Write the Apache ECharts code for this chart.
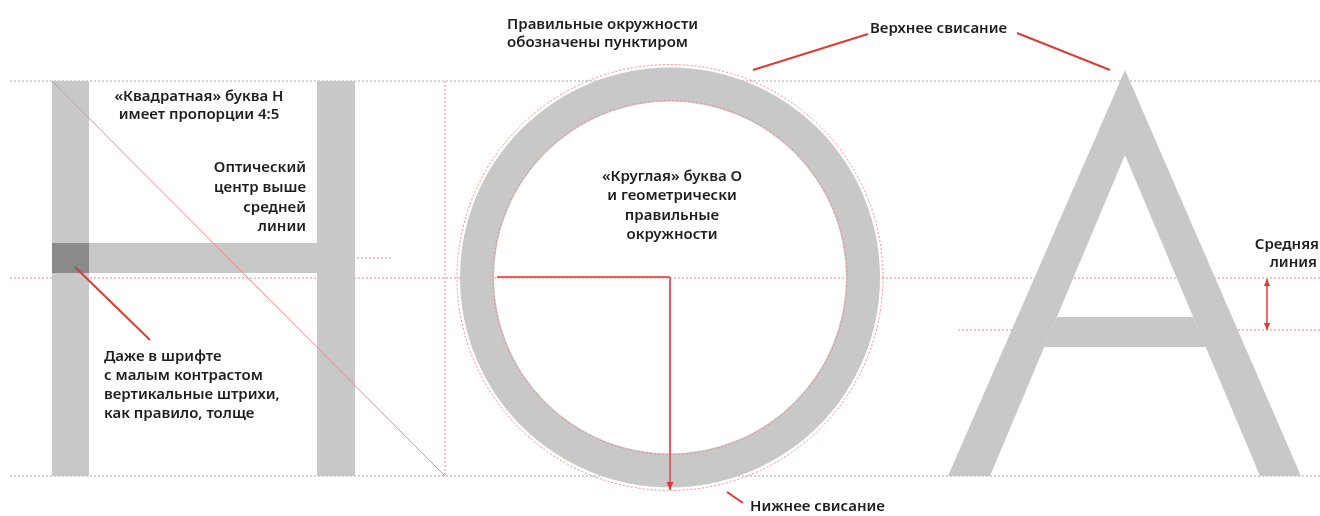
<!DOCTYPE html>
<html>
<head>
<meta charset="utf-8">
<script src="https://cdn.jsdelivr.net/npm/echarts@6/dist/echarts.min.js"></script>
<style>html,body{margin:0;padding:0;background:#fff;}#c{width:1320px;height:516px;}</style>
</head>
<body>
<div id="c"></div>
<script>
// ---- data (diagram coordinates: x 0..1320, y 0..516 downward) ----
const guidesGray = [[10,81,1320,81],[10,476,1320,476]];
const guidesRed = [[10,278,1320,278],[958,330,1320,330],[353,258,393,258],[445,81,445,476]];
const diagonal = [[52,81,445,476]];
const hStems = [[52,81,89,476],[317,81,355,476],[52,243,355,273]];
const hDark = [[52,243,89,273]];
const oCenter = [670,277.5];
const oRing = [210,176];
const oDotted = [213,177];
const aLeft = [[1125,70],[1125,155],[990,476],[948,476]];
const aRight = [[1125,70],[1301,476],[1260,476],[1125,155]];
const aBar = [[1057,317],[1193,317],[1206,347],[1044,347]];
const aShapes = [aLeft, aRight, aBar];
const pointers = [[75,267,150,340],[868,34,753,70],[1017,33,1110,70],[727,492,743,503]];
const radiusLines = [[497,277,670,277,0],[670,277,670,490,1],[1267,279,1267,330,2]]; // last: arrow kind
const textsLeft = [
  [104,357,'Даже в шрифте'],[104,376,'с малым контрастом'],[104,395,'вертикальные штрихи,'],[104,414,'как правило, толще'],
  [507,25,'Правильные окружности'],[507,43,'обозначены пунктиром'],
  [870,29,'Верхнее свисание'],[750,507,'Нижнее свисание']
];
const textsCenter = [
  [199,97,'«Квадратная» буква Н'],[199,115,'имеет пропорции 4:5'],
  [672,177,'«Круглая» буква О'],[672,196,'и геометрически'],[672,216,'правильные'],[672,235,'окружности']
];
const textsRight = [
  [306,168,'Оптический'],[306,188,'центр выше'],[306,208,'средней'],[306,227,'линии'],
  [1319,245,'Средняя'],[1317,263,'линия']
];

// ---- styles ----
const GRAY = '#c8c8c8', DARK = '#8a8a8a', RED = '#dd3b35', RED_LIGHT = '#ee8a86', GRAY_DOT = '#a8a8a8';
const FONT = '600 15px "Noto Sans", sans-serif';

function segSeries(data, stroke, width, dash, z) {
  return {
    type: 'custom', z: z, silent: true, data: data,
    renderItem: function (p, api) {
      const a = api.coord([api.value(0), api.value(1)]);
      const b = api.coord([api.value(2), api.value(3)]);
      return { type: 'line', shape: { x1: a[0], y1: a[1], x2: b[0], y2: b[1] },
        style: { stroke: stroke, lineWidth: width, lineDash: dash } };
    }
  };
}
function rectSeries(data, fill, z) {
  return {
    type: 'custom', z: z, silent: true, data: data,
    renderItem: function (p, api) {
      const a = api.coord([api.value(0), api.value(1)]);
      const b = api.coord([api.value(2), api.value(3)]);
      return { type: 'rect', shape: { x: Math.min(a[0], b[0]), y: Math.min(a[1], b[1]),
        width: Math.abs(b[0] - a[0]), height: Math.abs(b[1] - a[1]) }, style: { fill: fill } };
    }
  };
}
function textSeries(data, align, z) {
  return {
    type: 'custom', z: z, silent: true, data: data.map(function (t) { return [t[0], t[1]]; }),
    renderItem: function (p, api) {
      const a = api.coord([api.value(0), api.value(1)]);
      return { type: 'text', x: a[0], y: a[1],
        style: { text: data[p.dataIndex][2], fill: '#1e1e1e', font: FONT, align: align, verticalAlign: 'middle' } };
    }
  };
}
function arrowHead(tip, from, size) {
  const dx = tip[0] - from[0], dy = tip[1] - from[1];
  const L = Math.sqrt(dx * dx + dy * dy) || 1;
  const ux = dx / L, uy = dy / L;
  const bx = tip[0] - ux * size, by = tip[1] - uy * size;
  const w = size * 0.45;
  return { type: 'polygon', shape: { points: [tip, [bx - uy * w, by + ux * w], [bx + uy * w, by - ux * w]] },
    style: { fill: RED } };
}

const option = {
  animation: false,
  backgroundColor: '#fff',
  grid: { left: 0, right: 0, top: 0, bottom: 0 },
  xAxis: { type: 'value', min: 0, max: 1320, show: false },
  yAxis: { type: 'value', min: 0, max: 516, inverse: true, show: false },
  series: [
    segSeries(guidesGray, GRAY_DOT, 1, [2, 2], 1),
    segSeries(guidesRed, RED_LIGHT, 1, [2, 2], 1),
    rectSeries(hStems, GRAY, 2),
    rectSeries(hDark, DARK, 3),
    {
      type: 'custom', z: 2, silent: true, data: [[oCenter[0], oCenter[1], oRing[0], oRing[1]]],
      renderItem: function (p, api) {
        const c = api.coord([api.value(0), api.value(1)]);
        const r = api.coord([api.value(0) + api.value(2), api.value(1)])[0] - c[0];
        const r0 = api.coord([api.value(0) + api.value(3), api.value(1)])[0] - c[0];
        return { type: 'ring', shape: { cx: c[0], cy: c[1], r: r, r0: r0 }, style: { fill: GRAY } };
      }
    },
    {
      type: 'custom', z: 2, silent: true, data: aShapes.map(function (s, i) { return [s[0][0], s[0][1], i]; }),
      renderItem: function (p, api) {
        const pts = aShapes[p.dataIndex].map(function (q) { return api.coord(q); });
        return { type: 'polygon', shape: { points: pts }, style: { fill: GRAY } };
      }
    },
    {
      type: 'custom', z: 3, silent: true, data: oDotted.map(function (r) { return [oCenter[0], oCenter[1], r]; }),
      renderItem: function (p, api) {
        const c = api.coord([api.value(0), api.value(1)]);
        const r = api.coord([api.value(0) + api.value(2), api.value(1)])[0] - c[0];
        return { type: 'circle', shape: { cx: c[0], cy: c[1], r: r },
          style: { fill: 'none', stroke: RED_LIGHT, lineWidth: 1, lineDash: [2, 2] } };
      }
    },
    segSeries(diagonal, RED_LIGHT, 1, null, 3),
    segSeries(pointers, RED, 2, null, 4),
    {
      type: 'custom', z: 4, silent: true, data: radiusLines,
      renderItem: function (p, api) {
        const a = api.coord([api.value(0), api.value(1)]);
        const b = api.coord([api.value(2), api.value(3)]);
        const kind = api.value(4);
        const ch = [{ type: 'line', shape: { x1: a[0], y1: a[1], x2: b[0], y2: b[1] },
          style: { stroke: kind === 2 ? RED : '#e8605a', lineWidth: kind === 2 ? 1.5 : 2 } }];
        if (kind === 1) ch.push(arrowHead(b, a, 8));
        if (kind === 2) { ch.push(arrowHead(b, a, 7)); ch.push(arrowHead(a, b, 7)); }
        return { type: 'group', children: ch };
      }
    },
    textSeries(textsLeft, 'left', 5),
    textSeries(textsCenter, 'center', 5),
    textSeries(textsRight, 'right', 5)
  ]
};
const chart = echarts.init(document.getElementById('c'), null, { renderer: 'canvas' });
chart.setOption(option);
</script>
</body>
</html>
